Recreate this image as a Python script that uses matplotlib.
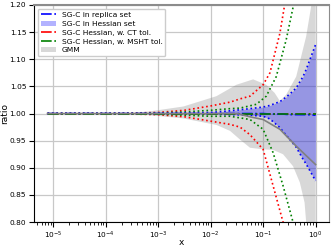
import numpy as np
import matplotlib
matplotlib.use("Agg")
import matplotlib.pyplot as plt

# log10(x) grid points and ratio values
lx_red_up = [-5.11, -4.0, -3.5, -3.0, -2.5, -2.0, -1.63, -1.44, -1.25, -1.0, -0.87, -0.68, -0.59, -0.43, 0.0]
red_up = [1.0, 1.0, 1.001, 1.002, 1.006, 1.014, 1.021, 1.027, 1.032, 1.053, 1.075, 1.148, 1.20, 1.32, 1.8]
lx_red_dn = [-5.11, -4.0, -3.5, -3.0, -2.5, -2.0, -1.63, -1.44, -1.25, -1.0, -0.81, -0.62, -0.43, 0.0]
red_dn = [1.0, 1.0, 0.999, 0.998, 0.994, 0.986, 0.980, 0.975, 0.961, 0.934, 0.867, 0.80, 0.70, 0.3]

lx_grn_up = [-5.11, -4.0, -3.0, -2.5, -2.0, -1.63, -1.44, -1.13, -0.94, -0.75, -0.56, -0.42, 0.0]
grn_up = [1.0, 1.0, 1.001, 1.003, 1.006, 1.009, 1.010, 1.017, 1.032, 1.068, 1.136, 1.20, 1.6]
lx_grn_dn = [-5.11, -4.0, -3.0, -2.5, -2.0, -1.63, -1.25, -1.0, -0.81, -0.62, -0.43, 0.0]
grn_dn = [1.0, 1.0, 0.999, 0.997, 0.995, 0.995, 0.989, 0.971, 0.928, 0.867, 0.80, 0.4]

lx_blue = [-5.11, -4.0, -3.0, -2.5, -2.0, -1.63, -1.25, -1.0, -0.87, -0.68, -0.62, -0.49, -0.37, -0.24, -0.18, 0.0]
blue_up = [1.0, 1.0, 1.0, 1.001, 1.002, 1.005, 1.009, 1.012, 1.015, 1.022, 1.026, 1.036, 1.047, 1.068, 1.081, 1.127]
blue_dn = [1.0, 1.0, 1.0, 1.0, 0.999, 0.998, 0.997, 0.995, 0.99, 0.974, 0.967, 0.952, 0.938, 0.916, 0.907, 0.876]
blue_cen = [1.0, 1.0, 1.0, 1.0, 1.0, 1.0, 1.0, 1.0, 0.999, 0.999, 0.999, 0.998, 0.998, 0.998, 0.998, 0.997]

lx_gmm_up = [-5.11, -4.0, -3.5, -3.16, -2.52, -1.89, -1.51, -1.19, -0.94, -0.78, -0.68, -0.56, -0.37, -0.18, -0.08, 0.0]
gmm_up = [1.0, 1.0, 1.001, 1.004, 1.013, 1.032, 1.053, 1.063, 1.053, 1.038, 1.023, 1.035, 1.068, 1.142, 1.20, 1.26]
lx_gmm_dn = [-5.11, -4.0, -3.5, -3.16, -2.52, -1.89, -1.63, -1.44, -1.25, -1.0, -0.81, -0.62, -0.43, -0.30, -0.21, -0.18, -0.1, 0.0]
gmm_dn = [1.0, 1.0, 0.999, 0.997, 0.991, 0.979, 0.968, 0.952, 0.937, 0.934, 0.933, 0.925, 0.903, 0.873, 0.836, 0.80, 0.74, 0.68]
lx_gmm_cen = [-5.11, -1.5, -1.25, -1.0, -0.68, -0.37, 0.0]
gmm_cen = [1.0, 1.0, 0.994, 0.989, 0.971, 0.94, 0.906]


def to_x(lx):
    return 10.0 ** np.array(lx)


# GMM band on a common grid
gx = sorted(set(lx_gmm_up) | set(lx_gmm_dn))
gup = np.interp(gx, lx_gmm_up, gmm_up)
gdn = np.interp(gx, lx_gmm_dn, gmm_dn)

fig = plt.figure(figsize=(3.32, 2.49), dpi=100)
ax = fig.add_axes([0.102, 0.108, 0.889, 0.872])

ax.fill_between(to_x(gx), gdn, gup, color='0.5', alpha=0.3, lw=0, label='GMM')
ax.fill_between(to_x(lx_blue), blue_dn, blue_up, color='blue', alpha=0.3, lw=0,
                label='SG-C in Hessian set')

ax.plot(to_x(lx_red_up), red_up, color='red', ls=':', lw=1.2)
ax.plot(to_x(lx_red_dn), red_dn, color='red', ls=':', lw=1.2)
ax.plot(to_x(lx_grn_up), grn_up, color='green', ls=':', lw=1.2)
ax.plot(to_x(lx_grn_dn), grn_dn, color='green', ls=':', lw=1.2)
ax.plot(to_x(lx_blue), blue_up, color='blue', ls=':', lw=1.2)
ax.plot(to_x(lx_blue), blue_dn, color='blue', ls=':', lw=1.2)

ax.plot(to_x([-5.11, 0.0]), [1.0, 1.0], color='red', ls='-.', lw=1.2,
        label='SG-C Hessian, w. CT tol.')
ax.plot(to_x(lx_blue), blue_cen, color='blue', ls='-.', lw=1.2,
        label='SG-C in replica set')
ax.plot(to_x([-5.11, 0.0]), [1.0, 1.0], color='green', ls='-.', lw=1.2,
        label='SG-C Hessian, w. MSHT tol.')
ax.plot(to_x(lx_gmm_cen), gmm_cen, color='0.5', lw=1.2)

ax.set_xscale('log')
ax.set_xlim(10 ** -5.37, 10 ** 0.256)
ax.set_ylim(0.80, 1.20)
ax.set_yticks([0.80, 0.85, 0.90, 0.95, 1.00, 1.05, 1.10, 1.15, 1.20])
ax.grid(True, color='#c8c8c8', lw=0.9)
ax.set_axisbelow(True)
ax.spines['top'].set_color('0.55')
ax.spines['right'].set_color('0.55')
ax.spines['top'].set_linewidth(1.5)
ax.tick_params(labelsize=5.3, pad=2)
ax.set_xlabel('x', fontsize=6.5)
ax.set_ylabel('ratio', fontsize=6.5)
ax.xaxis.set_label_coords(0.5, -0.075)
ax.yaxis.set_label_coords(-0.085, 0.5)

h, l = ax.get_legend_handles_labels()
order = ['SG-C in replica set', 'SG-C in Hessian set', 'SG-C Hessian, w. CT tol.',
         'SG-C Hessian, w. MSHT tol.', 'GMM']
hd = dict(zip(l, h))
ax.legend([hd[k] for k in order], order, loc='upper left', fontsize=5.4,
          handlelength=2.0, borderpad=0.4, labelspacing=0.35, framealpha=1.0)

fig.savefig('out.png', dpi=100)
